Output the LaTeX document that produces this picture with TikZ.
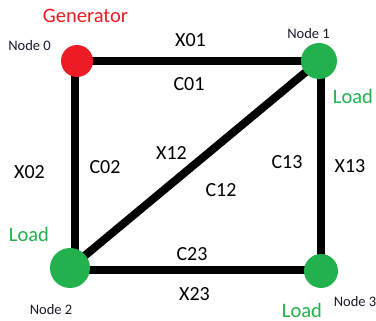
\documentclass[tikz,border=0pt]{standalone}
\usepackage{fontspec}
\setmainfont{Carlito}
\usetikzlibrary{backgrounds}
\definecolor{genred}{RGB}{237,28,36}
\definecolor{loadgreen}{RGB}{34,177,76}
\definecolor{tagtext}{RGB}{25,25,45}
\tikzset{
  bus/.style={circle, inner sep=0pt, minimum size=#1},
  gen/.style={bus=32pt, fill=genred},
  load/.style={bus=#1, fill=loadgreen},
  line/.style={line width=8pt, black},
  param/.style={anchor=base, inner sep=0pt, font=\fontsize{20}{24}\selectfont, text=black},
  tag/.style={anchor=base, inner sep=0pt, font=\fontsize{14.5}{17}\selectfont, text=tagtext},
  role/.style={anchor=base, inner sep=0pt, font=\fontsize{20.5}{24}\selectfont},
}
\begin{document}
\begin{tikzpicture}[x=1pt, y=-1pt]
  \useasboundingbox (0,0) rectangle (376,321);

  % buses
  \node[gen] (n0) at (77,61) {};
  \node[load=36pt] (n1) at (319,61) {};
  \node[load=40pt] (n2) at (70,268) {};
  \node[load=34pt] (n3) at (321,271) {};

  % white page, then the transmission lines beneath the buses
  \begin{pgfonlayer}{background}
    \fill[white] (0,0) rectangle (376,321);
    \draw[line] (n0.center) -- (n1.center);
    \draw[line] ([xshift=-2pt]n0.center) -- ([xshift=5pt]n2.center);
    \draw[line] ([xshift=1.5pt]n1.center) -- ([xshift=-0.5pt]n3.center);
    \draw[line] ([yshift=-2pt]n2.center) -- ([yshift=1pt]n3.center);
    \draw[line] (n2.center) -- (n1.center);
  \end{pgfonlayer}

  % bus names
  \node[tag] (t0) at (29.5,50.5) {Node 0};
  \node[tag] (t1) at (308.5,39) {Node 1};
  \node[tag] (t2) at (51,315) {Node 2};
  \node[tag] (t3) at (355,307) {Node 3};

  % bus roles
  \node[role, text=genred] (r0) at (85.5,23) {Generator};
  \node[role, text=loadgreen] (r1) at (353,104) {Load};
  \node[role, text=loadgreen] (r2) at (29,242) {Load};
  \node[role, text=loadgreen] (r3) at (302,317.5) {Load};

  % line parameters
  \node[param] (x01) at (190.5,47) {X01};
  \node[param] (c01) at (189,91) {C01};
  \node[param] (x02) at (29.5,179) {X02};
  \node[param] (c02) at (105,174) {C02};
  \node[param] (x12) at (171.5,160) {X12};
  \node[param] (c12) at (221,197) {C12};
  \node[param] (c13) at (287,169) {C13};
  \node[param] (x13) at (350,173) {X13};
  \node[param] (c23) at (192,261) {C23};
  \node[param] (x23) at (194.5,301) {X23};
\end{tikzpicture}
\end{document}
